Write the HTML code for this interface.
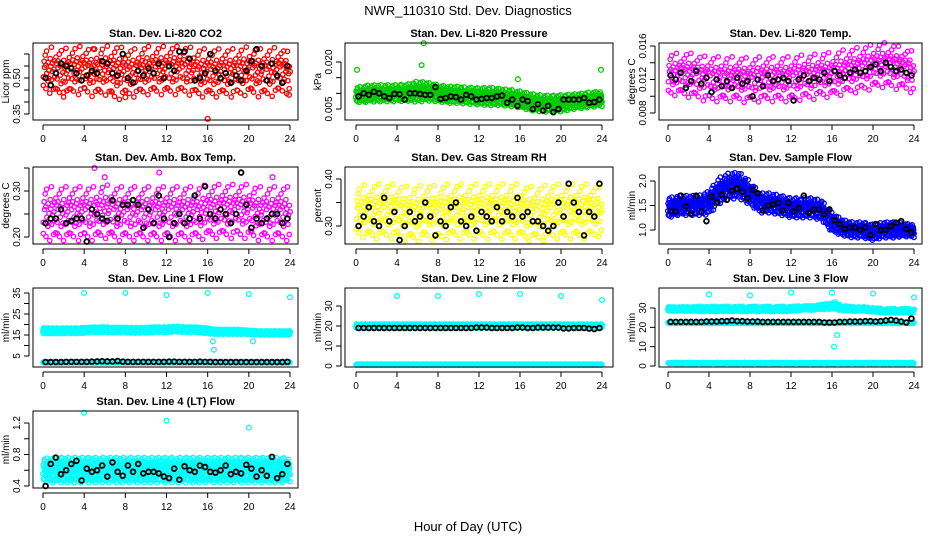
<!DOCTYPE html>
<html><head><meta charset="utf-8">
<style>
body{margin:0;background:#fff;}
svg{display:block;font-family:"Liberation Sans",Arial,sans-serif;}
</style></head>
<body>
<svg id="c" width="936" height="540" viewBox="0 0 936 540">
<text x="468" y="15" font-size="13" text-anchor="middle">NWR_110310  Std. Dev. Diagnostics</text>
<text x="468" y="531" font-size="13" text-anchor="middle">Hour of Day (UTC)</text>
</svg>
<script>
const hourTicks=[0,4,8,12,16,20,24];
// CO2
const co2Center=[0.53,0.53,0.52,0.53,0.53,0.52,0.53,0.52,0.52,0.52,0.53,0.53,0.53,0.53,0.53,0.52,0.52,0.52,0.52,0.52,0.53,0.52,0.52,0.53,0.52];
const co2Half=[0.05,0.06,0.06,0.06,0.06,0.06,0.06,0.07,0.06,0.06,0.06,0.06,0.06,0.06,0.06,0.06,0.06,0.06,0.06,0.06,0.06,0.06,0.06,0.06,0.05];
const co2Black=[0.50,0.47,0.52,0.56,0.55,0.54,0.52,0.49,0.51,0.53,0.52,0.57,0.56,0.52,0.51,0.60,0.50,0.48,0.53,0.51,0.54,0.52,0.56,0.50,0.55,0.53,0.61,0.61,0.58,0.49,0.50,0.52,0.60,0.53,0.50,0.52,0.48,0.51,0.49,0.53,0.57,0.62,0.55,0.49,0.56,0.51,0.48,0.55];
const co2OutX=[2,5,8,16,23.9];const co2OutV=[0.44,0.62,0.42,0.33,0.43];
// Pressure
const presCenter=[0.0095,0.0098,0.0100,0.0100,0.0100,0.0102,0.0105,0.0105,0.0100,0.0095,0.0095,0.0092,0.0090,0.0090,0.0088,0.0085,0.0080,0.0072,0.0068,0.0066,0.0068,0.0072,0.0076,0.0080,0.0082];
const presHalf=[0.0018,0.0020,0.0020,0.0020,0.0020,0.0020,0.0025,0.0022,0.0020,0.0020,0.0020,0.0020,0.0020,0.0022,0.0020,0.0020,0.0020,0.0020,0.0020,0.0020,0.0020,0.0018,0.0018,0.0018,0.0018];
const presBlack=[0.0090,0.0100,0.0095,0.0105,0.0100,0.0090,0.0085,0.0098,0.0097,0.0080,0.0100,0.0100,0.0098,0.0095,0.0095,0.0120,0.0082,0.0085,0.0090,0.0088,0.0080,0.0095,0.0090,0.0080,0.0082,0.0085,0.0085,0.0090,0.0093,0.0070,0.0080,0.0060,0.0080,0.0075,0.0050,0.0065,0.0045,0.0060,0.0040,0.0050,0.0080,0.0080,0.0080,0.0080,0.0085,0.0070,0.0072,0.0080];
const presOutX=[0.1,6.6,6.4,15.8,23.9];const presOutV=[0.0175,0.0260,0.0190,0.0145,0.0175];
// Li-820 temp
const tempCenter=[0.0125,0.0126,0.0125,0.0122,0.0120,0.0120,0.0120,0.0120,0.0118,0.0120,0.0120,0.0120,0.0120,0.0122,0.0122,0.0125,0.0125,0.0128,0.0130,0.0132,0.0135,0.0137,0.0135,0.0132,0.0128];
const tempHalf=[0.0015,0.0015,0.0016,0.0016,0.0016,0.0016,0.0016,0.0016,0.0016,0.0016,0.0016,0.0016,0.0016,0.0016,0.0016,0.0016,0.0016,0.0016,0.0016,0.0016,0.0016,0.0016,0.0016,0.0015,0.0015];
const tempBlack=[0.0125,0.0120,0.0128,0.0110,0.0118,0.0130,0.0115,0.0122,0.0105,0.0120,0.0112,0.0118,0.0110,0.0122,0.0115,0.0118,0.0100,0.0120,0.0112,0.0125,0.0118,0.0120,0.0122,0.0118,0.0095,0.0120,0.0125,0.0118,0.0122,0.0120,0.0128,0.0118,0.0130,0.0125,0.0122,0.0128,0.0132,0.0128,0.0130,0.0135,0.0138,0.0130,0.0140,0.0135,0.0130,0.0132,0.0128,0.0125];
// Amb box temp
const ambCenter=[0.25,0.25,0.25,0.25,0.25,0.25,0.255,0.25,0.25,0.25,0.25,0.25,0.25,0.25,0.25,0.25,0.255,0.255,0.255,0.255,0.255,0.25,0.25,0.25,0.25];
const ambHalf=[0.035,0.035,0.035,0.035,0.035,0.035,0.035,0.035,0.035,0.035,0.035,0.035,0.035,0.035,0.035,0.035,0.035,0.035,0.035,0.035,0.035,0.035,0.035,0.035,0.035];
const ambBlack=[0.23,0.24,0.24,0.26,0.23,0.235,0.24,0.24,0.19,0.26,0.25,0.24,0.235,0.28,0.24,0.27,0.27,0.28,0.27,0.22,0.26,0.23,0.29,0.24,0.20,0.23,0.25,0.23,0.24,0.29,0.24,0.31,0.25,0.24,0.26,0.25,0.23,0.25,0.34,0.27,0.22,0.24,0.23,0.24,0.25,0.25,0.23,0.24];
const ambOutX=[5,11.3,6,22.3];const ambOutV=[0.35,0.34,0.33,0.33];
// Gas stream RH
const rhCenter=[0.33,0.33,0.33,0.33,0.33,0.325,0.325,0.33,0.325,0.33,0.33,0.33,0.33,0.33,0.33,0.33,0.33,0.325,0.325,0.33,0.33,0.33,0.33,0.33,0.33];
const rhHalf=[0.03,0.035,0.035,0.035,0.035,0.035,0.035,0.035,0.035,0.035,0.035,0.035,0.035,0.035,0.035,0.035,0.035,0.035,0.035,0.035,0.035,0.035,0.035,0.035,0.03];
const rhBlack=[0.30,0.32,0.34,0.31,0.30,0.36,0.31,0.33,0.27,0.30,0.33,0.31,0.32,0.35,0.32,0.28,0.31,0.30,0.34,0.35,0.31,0.30,0.32,0.29,0.33,0.32,0.31,0.34,0.31,0.33,0.32,0.36,0.32,0.33,0.31,0.31,0.30,0.29,0.30,0.35,0.32,0.39,0.35,0.33,0.28,0.33,0.32,0.39];
// Sample flow
const flowCenter=[1.45,1.5,1.5,1.5,1.55,1.8,1.9,1.9,1.75,1.55,1.55,1.5,1.45,1.45,1.45,1.4,1.15,1.05,1.0,1.0,0.95,1.0,1.0,1.0,0.98];
const flowHalf=[0.15,0.15,0.15,0.15,0.18,0.2,0.2,0.2,0.18,0.15,0.15,0.15,0.15,0.15,0.15,0.15,0.15,0.12,0.12,0.12,0.12,0.12,0.12,0.1,0.1];
const flowBlack=[1.38,1.38,1.7,1.48,1.33,1.7,1.38,1.18,1.68,1.57,1.72,1.62,1.8,1.85,1.78,1.65,1.82,1.75,1.4,1.5,1.52,1.55,1.4,1.55,1.38,1.45,1.7,1.35,1.42,1.42,1.32,1.42,1.2,1.12,1.02,1.05,1.05,1.0,1.05,0.9,1.12,1.0,1.0,1.08,1.15,1.18,1.02,0.95];
// Line 1 flow
const l1Center=[17,17,17,17,17.2,17.5,17.5,17.3,17.3,17.2,17.3,17.5,17.5,17.8,17.5,17.5,17,16.5,16.5,16.5,16.3,16,16,16,16];
const l1Half=[1.6,1.6,1.6,1.6,1.6,1.6,1.6,1.6,1.6,1.6,1.6,1.6,1.6,1.6,1.6,1.6,1.6,1.4,1.4,1.4,1.2,1.2,1.2,1.2,1.2];
const l1Low=[2,2,2,2,2,2,2,2,2,2,2,2,2,2,2,2,2,2,2,2,2,2,2,2,2];
const l1Black=[2.1,2.1,2.1,2.1,2.2,2.2,2.2,2.2,2.2,2.3,2.4,2.5,2.4,2.4,2.6,2.3,2.2,2.2,2.2,2.2,2.2,2.2,2.2,2.2,2.3,2.3,2.2,2.2,2.2,2.2,2.3,2.2,2.2,2.1,2.1,2.1,2.1,2.1,2.1,2.1,2.1,2.1,2.1,2.1,2.1,2.1,2.1,2.2];
const l1OutX=[4,8,12,16,20,24,16.5,16.6,20.4];const l1OutV=[35,35,34,35,34.5,33,12,8,12];
// Line 2 flow
const l2Center=[20,20,20,20,20,20,20,20,20,20,20,20,20,20,20,20,20,20,20,20,20,20,20,20,20];
const l2Half=[1.2,1.2,1.2,1.2,1.2,1.2,1.2,1.2,1.2,1.2,1.2,1.2,1.2,1.2,1.2,1.2,1.2,1.2,1.2,1.2,1.2,1.2,1.2,1.2,1.2];
const l2Low=[0.7,0.7,0.7,0.7,0.7,0.7,0.7,0.7,0.7,0.7,0.7,0.7,0.7,0.7,0.7,0.7,0.7,0.7,0.7,0.7,0.7,0.7,0.7,0.7,0.7];
const l2Black=[19,19,19,19,19,19,19,19,19,19,19,19,19,19,19,19,19,19,19,19,19,19,19,19.2,19.2,19.2,19,19,19,19,19,19.2,19.2,19,19,19.2,19.2,19.2,19.2,19.2,18.8,18.8,19,19,19,18.7,18.5,19];
const l2OutX=[4,8,12,16,20,24];const l2OutV=[35,35,36,36,35,33];
// Line 3 flow
const l3Center=[29.5,29.5,29.5,29.5,29.5,29.5,29.5,29.5,29.5,29.5,29.5,29.5,29.5,30,30,30.5,31,30,29.5,29.5,29,28.5,28.5,28.5,28.5];
const l3Half=[1,1,1,1.2,1.2,1.2,1.2,1.2,1.2,1.2,1.2,1.2,1.2,1,1,1.2,1.4,1.2,1,1,1,1,1,1,1];
const l3Low=[1.5,1.5,1.5,1.5,1.5,1.5,1.5,1.5,1.5,1.5,1.5,1.5,1.5,1.5,1.5,1.5,1.5,1.5,1.5,1.5,1.5,1.5,1.5,1.5,1.5];
const l3Mid=[22.3,22.3,22.3,22.3,22.3,22.3,22.3,22.3,22.3,22.3,22.3,22.3,22.3,22.3,22.3,22.3,22.3,22.3,22.3,22.3,22.3,22.3,22.3,22.3,22.3];
const l3Black=[22.8,22.8,22.8,22.8,22.8,22.8,22.8,23,23,23,23.2,23.2,23.5,23.2,23.2,23,23,23,22.8,22.8,22.8,22.8,22.8,22.8,22.8,22.8,22.8,22.8,22.8,22.8,22.5,22.5,22.5,22.8,22.8,23,23,23,23.2,23.2,23,23.2,23.5,23.8,23.5,23,22.5,24.5];
const l3OutX=[4,8,12,16,20,24,16.3,16.5,16.2];const l3OutV=[37,36.5,38,38,37.5,35.5,33,16,10];
// Line 4 flow
const l4Center=[0.6,0.6,0.6,0.6,0.6,0.6,0.6,0.6,0.6,0.6,0.6,0.6,0.6,0.6,0.6,0.6,0.6,0.6,0.6,0.6,0.6,0.6,0.6,0.6,0.6];
const l4Half=[0.11,0.12,0.12,0.12,0.12,0.12,0.12,0.12,0.12,0.12,0.12,0.12,0.12,0.12,0.12,0.12,0.12,0.12,0.12,0.12,0.12,0.12,0.12,0.12,0.11];
const l4Black=[0.40,0.68,0.76,0.55,0.60,0.68,0.72,0.47,0.62,0.58,0.60,0.66,0.52,0.70,0.58,0.53,0.66,0.58,0.68,0.56,0.58,0.58,0.56,0.52,0.50,0.62,0.48,0.65,0.60,0.58,0.66,0.64,0.58,0.57,0.60,0.66,0.55,0.58,0.56,0.67,0.62,0.52,0.60,0.53,0.77,0.50,0.55,0.68];
const l4OutX=[4,12,20];const l4OutV=[1.33,1.23,1.14];

const cols=[{l:33,r:298,x0:43,x24:290},{l:345,r:613,x0:356,x24:602},{l:659,r:922,x0:668,x24:914}];
const rows=[{t:43,b:120},{t:167,b:244},{t:288,b:367},{t:411,b:488}];
const panels=[
 {name:'co2',title:'Stan. Dev. Li-820 CO2',yt:'Licor ppm',c:0,r:0,col:'#ff0000',ref:[0.50,78,0.35,114],ticks:[0.35,0.40,0.45,0.50,0.55,0.60],labels:['0.35','','','0.50','',''],center:co2Center,half:co2Half,black:co2Black,outX:co2OutX,outV:co2OutV,dens:1,spread:1.5},
 {name:'pressure',title:'Stan. Dev. Li-820 Pressure',yt:'kPa',c:1,r:0,col:'#00cc00',ref:[0.020,62,0.005,109],ticks:[0.005,0.010,0.015,0.020],labels:['0.005','','','0.020'],center:presCenter,half:presHalf,black:presBlack,outX:presOutX,outV:presOutV,dens:2,spread:1.2},
 {name:'li820-temp',title:'Stan. Dev. Li-820 Temp.',yt:'degrees C',c:2,r:0,col:'#ff00ff',ref:[0.016,46,0.008,113],ticks:[0.008,0.010,0.012,0.014,0.016],labels:['0.008','','0.012','','0.016'],center:tempCenter,half:tempHalf,black:tempBlack,dens:1,spread:1.5},
 {name:'amb-box-temp',title:'Stan. Dev. Amb. Box Temp.',yt:'degrees C',c:0,r:1,col:'#ff00ff',ref:[0.30,191,0.20,237],ticks:[0.20,0.25,0.30,0.35],labels:['0.20','','0.30',''],center:ambCenter,half:ambHalf,black:ambBlack,outX:ambOutX,outV:ambOutV,dens:1,spread:1.5},
 {name:'gas-stream-rh',title:'Stan. Dev. Gas Stream RH',yt:'percent',c:1,r:1,col:'#ffff00',ref:[0.40,179,0.30,226],ticks:[0.30,0.35,0.40],labels:['0.30','','0.40'],center:rhCenter,half:rhHalf,black:rhBlack,dens:1,spread:1.5},
 {name:'sample-flow',title:'Stan. Dev. Sample Flow',yt:'ml/min',c:2,r:1,col:'#0000ff',ref:[2.0,181,1.0,230],ticks:[1.0,1.5,2.0],labels:['1.0','1.5','2.0'],center:flowCenter,half:flowHalf,black:flowBlack,dens:2,spread:1.2},
 {name:'line1-flow',title:'Stan. Dev. Line 1 Flow',yt:'ml/min',c:0,r:2,col:'#00ffff',ref:[35,293,5,356],ticks:[5,10,15,20,25,30,35],labels:['5','','15','','25','','35'],center:l1Center,half:l1Half,lines:[l1Low],black:l1Black,outX:l1OutX,outV:l1OutV,dens:2,spread:1},
 {name:'line2-flow',title:'Stan. Dev. Line 2 Flow',yt:'ml/min',c:1,r:2,col:'#00ffff',ref:[30,306,0,366],ticks:[0,10,20,30],labels:['0','10','20','30'],center:l2Center,half:l2Half,lines:[l2Low],black:l2Black,outX:l2OutX,outV:l2OutV,dens:2,spread:1},
 {name:'line3-flow',title:'Stan. Dev. Line 3 Flow',yt:'ml/min',c:2,r:2,col:'#00ffff',ref:[30,308,0,366],ticks:[0,10,20,30],labels:['0','10','20','30'],center:l3Center,half:l3Half,lines:[l3Low,l3Mid],black:l3Black,outX:l3OutX,outV:l3OutV,dens:2,spread:1},
 {name:'line4-flow',title:'Stan. Dev. Line 4 (LT) Flow',yt:'ml/min',c:0,r:3,col:'#00ffff',ref:[1.2,423,0.4,486],ticks:[0.4,0.6,0.8,1.0,1.2],labels:['0.4','','0.8','','1.2'],center:l4Center,half:l4Half,black:l4Black,outX:l4OutX,outV:l4OutV,dens:2,spread:1.2}
];
const NS='http://www.w3.org/2000/svg';
const svg=document.getElementById('c');
function mk(tag,attrs,parent){const e=document.createElementNS(NS,tag);for(const k in attrs)e.setAttribute(k,attrs[k]);parent.appendChild(e);return e;}
// fixed scatter pattern (not data): fraction of band half-width
const frac=[-0.95,-0.4,0.15,0.6,0.98,-0.75,0.35,-0.15,0.82,-0.6,0.5,-0.3,0.02,0.7,-0.88,0.25,-0.5,0.9,-0.05,0.42,-0.68,0.1,0.55,-0.22,0.78,-0.92,0.3];
const dx=[0,0.03,-0.02,0.05,-0.04,0.01,0.04,-0.03,0.02,-0.05,0.03];
function interp(arr,h){h=Math.max(0,Math.min(24,h));const i=Math.min(23,Math.floor(h));const f=h-i;return arr[i]*(1-f)+arr[i+1]*f;}
panels.forEach(p=>{
 const C=cols[p.c],R=rows[p.r];
 const g=mk('g',{},svg);
 
 
 const xs=h=>C.x0+(C.x24-C.x0)*h/24;
 const [va,ya,vb,yb]=p.ref;
 const ys=v=>ya+(v-va)*(yb-ya)/(vb-va);
 const pts=mk('g',{fill:'none','stroke-width':1.3},g);
 
 
 let k=0;
 const step=0.05;
 for(let h=0;h<=24.001;h+=step){
  for(let d=0;d<p.dens;d++){const f=frac[(k++)%frac.length]*p.spread*(k%3===0?1.25:0.85);
   const hh=h+dx[k%dx.length];
   const c=interp(p.center,hh),hw=interp(p.half,hh);
   mk('circle',{cx:xs(hh).toFixed(1),cy:ys(c+f*hw).toFixed(1),r:2.2,stroke:p.col},pts);}
  (p.lines||[]).forEach(L=>{mk('circle',{cx:xs(h).toFixed(1),cy:ys(interp(L,h)+frac[(k++)%frac.length]*0.3).toFixed(1),r:2.2,stroke:p.col},pts);});
 }
 (p.outX||[]).forEach((x,i)=>{mk('circle',{cx:xs(x),cy:ys(p.outV[i]),r:2.4,stroke:p.col},pts);});
 p.black.forEach((v,i)=>{mk('circle',{cx:xs(i*0.5+0.25),cy:ys(v),r:2.4,stroke:'#000','stroke-width':1.8},pts);});
 const fr=mk('rect',{x:C.l,y:R.t,width:C.r-C.l,height:R.b-R.t,fill:'none',stroke:'#000','stroke-width':1},g);
 
 
 const t=mk('text',{x:(C.l+C.r)/2,y:R.t-6,'font-size':11,'font-weight':'bold','text-anchor':'middle'},g);
 t.textContent=p.title;
 
 
 const xa=mk('g',{'font-size':10,'text-anchor':'middle'},g);
 
 
 mk('line',{x1:xs(0),x2:xs(24),y1:R.b+5,y2:R.b+5,stroke:'#000'},xa);
 hourTicks.forEach(h=>{mk('line',{x1:xs(h),x2:xs(h),y1:R.b+5,y2:R.b+10,stroke:'#000'},xa);
  const tl=mk('text',{x:xs(h),y:R.b+22},xa);tl.textContent=h;});
 const yaG=mk('g',{'font-size':10,'text-anchor':'middle'},g);
 
 
 const x0=C.l-4;
 mk('line',{x1:x0,x2:x0,y1:ys(p.ticks[0]),y2:ys(p.ticks[p.ticks.length-1]),stroke:'#000'},yaG);
 p.ticks.forEach((v,i)=>{const y=ys(v);mk('line',{x1:x0,x2:x0-5,y1:y,y2:y,stroke:'#000'},yaG);
  if(p.labels[i]){const tl=mk('text',{x:x0-9,y:y,transform:`rotate(-90 ${x0-9} ${y})`},yaG);tl.textContent=p.labels[i];}});
 const yt=mk('text',{x:C.l-24,y:(R.t+R.b)/2,'font-size':10,'text-anchor':'middle',transform:`rotate(-90 ${C.l-24} ${(R.t+R.b)/2})`},g);
 yt.textContent=p.yt;
 
 
});
</script>
</body></html>
